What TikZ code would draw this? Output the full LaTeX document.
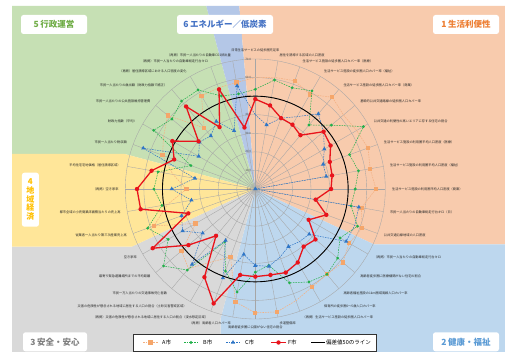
\documentclass[tikz,border=0pt]{standalone}
\usepackage{fontspec}
\setmainfont{Noto Sans CJK JP}
\usetikzlibrary{calc,shapes.geometric}
\definecolor{bgGreen}{HTML}{C6E0B4}
\definecolor{bgBlueTop}{HTML}{B4C7E7}
\definecolor{bgOrange}{HTML}{F8CBAD}
\definecolor{bgBlue}{HTML}{BDD7EE}
\definecolor{bgYellow}{HTML}{FFE699}
\definecolor{bgGrey}{HTML}{D9D9D9}
\definecolor{tGreen}{HTML}{70AD47}
\definecolor{tBlueTop}{HTML}{4472C4}
\definecolor{tOrange}{HTML}{ED7D31}
\definecolor{tYellow}{HTML}{FFC000}
\definecolor{tGrey}{HTML}{808080}
\definecolor{tBlue}{HTML}{5B9BD5}
\definecolor{cA}{HTML}{F5A66A}
\definecolor{cAl}{HTML}{F4B183}
\definecolor{cB}{HTML}{22B04A}
\definecolor{cC}{HTML}{2E75C6}
\definecolor{cF}{HTML}{E8141C}
\definecolor{gridc}{HTML}{A6A6A6}
\begin{document}
\begin{tikzpicture}[x=1pt,y=1pt,
  gridline/.style={draw=gridc,line width=0.35pt},
  ringlbl/.style={anchor=east,inner sep=0pt,text=black!70,font=\fontsize{3}{3.4}\selectfont},
  axlbl/.style={inner sep=0.6pt,text=black!85,font=\fontsize{3.2}{3.6}\selectfont},
  titlebox/.style={fill=white,rounded corners=2.5pt,minimum height=19pt,inner sep=1pt,font=\fontsize{8.5}{9}\selectfont\bfseries},
  lnA/.style={draw=cAl,dash pattern=on 1.6pt off 1pt,line width=0.55pt},
  lnB/.style={draw=cB,dash pattern=on 1.6pt off 1pt,line width=0.5pt},
  lnC/.style={draw=cC,dash pattern=on 1.6pt off 1pt,line width=0.5pt},
  lnF/.style={draw=cF,line width=1.3pt,line join=round},
  mkA/.style={rectangle,fill=cA,minimum size=4.3pt,inner sep=0pt},
  mkB/.style={circle,fill=cB,minimum size=3.1pt,inner sep=0pt},
  mkC/.style={regular polygon,regular polygon sides=3,fill=cC,minimum size=5pt,inner sep=0pt},
  mkF/.style={circle,fill=cF,minimum size=4.4pt,inner sep=0pt},
  leglbl/.style={inner sep=0pt,anchor=west,font=\fontsize{5.5}{6}\selectfont}]
\useasboundingbox (0,0) rectangle (505,352);
\fill[white] (0,0) rectangle (505,352);
\coordinate (O) at (255.3,163);
% background sectors
\fill[bgGreen] (12,346) -- (206.3,346) -- (O) -- (124.7,198) -- (12,198) -- cycle;
\fill[bgBlueTop] (206.3,346) -- (239.3,346) -- (O) -- cycle;
\fill[bgOrange] (239.3,346) -- (505,346) -- (505,107.5) -- (374.3,107.5) -- (O) -- cycle;
\fill[bgBlue] (O) -- (374.3,107.5) -- (505,107.5) -- (505,0) -- (220.7,0) -- (220.7,33.9) -- cycle;
\fill[bgGrey] (O) -- (220.7,33.9) -- (220.7,0) -- (12,0) -- (12,105.3) -- (131.6,105.3) -- cycle;
\fill[bgYellow] (O) -- (131.6,105.3) -- (12,105.3) -- (12,198) -- (124.7,198) -- cycle;
% title boxes
\node[titlebox,minimum width=66pt,text=tGreen] (t5) at (54,327.5) {5\,行政運営};
\node[titlebox,minimum width=96pt,text=tBlueTop] (t6) at (225,327.5) {6\,エネルギー／低炭素};
\node[titlebox,minimum width=66pt,text=tOrange] (t1) at (466,327.5) {1\,生活利便性};
\node[titlebox,minimum width=17pt,minimum height=54pt,align=center,text=tYellow,font=\fontsize{8}{8.6}\selectfont\bfseries] (t4) at (30.4,152.3) {4\\地\\域\\経\\済};
\node[titlebox,minimum width=64pt,text=tGrey] (t3) at (55,10.2) {3\,安全・安心};
\node[titlebox,minimum width=66pt,text=tBlue] (t2) at (466,10.2) {2\,健康・福祉};
% grid
\foreach \r in {1,...,7} \draw[gridline] (O) circle ({\r*18.57});
\foreach \k in {0,...,35} {
  \coordinate (S\k) at ($(O)+({90-10*\k}:130)$);
  \draw[gridline] (O) -- (S\k);
}
\foreach \r/\t in {0/0.0,1/10.0,2/20.0,3/30.0,4/40.0,5/50.0,6/60.0,7/70.0}
  \node[ringlbl] (rl\r) at ($(O)+(-4,{\r*18.57})$) {\t};
% axis labels
\node[axlbl,anchor=south] (L0) at ($(O)+(90:136)$) {日常生活サービスの徒歩圏充足率};
\node[axlbl,anchor=north] (L18) at ($(O)+(-90:136)$) {高齢者徒歩圏に公園がない住宅の割合};
\foreach \k/\t in {1/居住を誘導する区域の人口密度,
  2/生活サービス施設の徒歩圏人口カバー率（医療）,
  3/生活サービス施設の徒歩圏人口カバー率（福祉）,
  4/生活サービス施設の徒歩圏人口カバー率（商業）,
  5/基幹的公共交通路線の徒歩圏人口カバー率,
  6/公共交通の利便性の高いエリアに存する住宅の割合,
  7/生活サービス施設の利用圏平均人口密度（医療）,
  8/生活サービス施設の利用圏平均人口密度（福祉）,
  9/生活サービス施設の利用圏平均人口密度（商業）,
  10/市民一人当たりの自動車総走行台キロ（日）,
  11/公共交通沿線地域の人口密度,
  12/（再掲）市民一人当たりの自動車総走行台キロ,
  13/高齢者徒歩圏に医療機関がない住宅の割合,
  14/高齢者福祉施設の1km圏域高齢人口カバー率,
  15/保育所の徒歩圏0～5歳人口カバー率,
  16/（再掲）生活サービス施設の徒歩圏人口カバー率,
  17/歩道整備率}
  \node[axlbl,anchor=west] (L\k) at ($(O)+({90-10*\k}:136)$) {\t};
\foreach \k/\t in {19/（再掲）高齢者人口カバー率,
  20/（再掲）災害の危険性が懸念される地域に居住する人口の割合（浸水想定区域）,
  21/災害の危険性が懸念される地域に居住する人口の割合（土砂災害警戒区域）,
  22/市民一万人当たりの交通事故死亡者数,
  23/最寄り緊急避難場所までの平均距離,
  24/空き家率,
  25/従業者一人当たり第三次産業売上高,
  26/都市全域の小売商業床面積当たりの売上高,
  27/（再掲）空き家率,
  28/平均住宅宅地価格（居住誘導区域）,
  29/市民一人当たり税収額,
  30/財政力指数（平均）,
  31/市民一人当たりの公共施設維持管理費,
  32/市民一人当たりの歳出額（財政力指数で補正）,
  33/（再掲）居住誘導区域における人口密度の変化,
  34/（再掲）市民一人当たりの自動車総走行台キロ,
  35/（再掲）市民一人当たりの自動車CO2排出量}
  \node[axlbl,anchor=east] (L\k) at ($(O)+({90-10*\k}:136)$) {\t};
% series A
\foreach \v [count=\k from 0] in {60,61,62,58.8,64.5,62,63,64.6,62.8,65,58,61.2,58.4,61.5,60,61,64,67.2,66.7,61.7,39,45,56,51.8,37.1,58.1,48,37,45,53.2,57,61.6,42.9,57.9,58,58.3}
  \coordinate (A\k) at ($(O)+({90-10*\k}:{\v*1.857})$);
\draw[lnA] (A0) \foreach \k in {1,...,35} {-- (A\k)} -- cycle;
\foreach \k in {2,3,4,7,8,9,10,11,12,13,14,15,17,18,19,20,23,24,25,27,29,31,32,33,35}
  \node[mkA] (mA\k) at (A\k) {};
% series B
\foreach \v [count=\k from 0] in {53.7,59.6,58,61,45,53.5,67.2,54,56.4,53.8,52.4,58.6,52.7,57.9,60,57.8,53.8,41.8,44.8,56.3,47,32.8,57,64.5,54.2,61.7,51,54.6,53.2,36.9,63.2,58.6,61.8,61.6,53.3,52}
  \coordinate (B\k) at ($(O)+({90-10*\k}:{\v*1.857})$);
\draw[lnB] (B0) \foreach \k in {1,...,35} {-- (B\k)} -- cycle;
\foreach \k in {0,...,35} \node[mkB] (mB\k) at (B\k) {};
% series C
\foreach \v [count=\k from 0] in {40,35,40.6,45,52.8,48,42.9,38.9,38.8,0,56.6,57,56.5,37.9,37,35.8,39,42.3,41.2,35.8,51,32,53,37,45.2,42.3,34.9,45,33,64.2,35.2,39.3,37.3,42,33.4,56.4}
  \coordinate (C\k) at ($(O)+({90-10*\k}:{\v*1.857})$);
\draw[lnC] (C0) \foreach \k in {1,...,35} {-- (C\k)} -- cycle;
\foreach \k in {1,4,6,7,8,9,10,12,13,15,17,18,19,20,21,22,23,24,25,26,27,28,29,30,31,32,33,34,35}
  \node[mkC] (mC\k) at (C\k) {};
% deviation 50 line
\draw[black,line width=0.9pt] (O) circle (92.85);
% series F
\foreach \v [count=\k from 0] in {48.4,45.7,40.6,40,37.8,48,46.8,42.7,42,40.8,33,40.7,33.2,42.3,40.5,45.7,47.9,47,47.2,47,65.6,54.8,32.9,47,63.8,38.4,62.7,63.7,56.7,46.5,51.6,39.9,58,38.5,57.1,33.6}
  \coordinate (F\k) at ($(O)+({90-10*\k}:{\v*1.857})$);
\draw[lnF] (F0) \foreach \k in {1,...,35} {-- (F\k)} -- cycle;
\foreach \k in {0,...,35} \node[mkF] (mF\k) at (F\k) {};
% legend
\node[draw=black!80,line width=0.6pt,fill=white,minimum width=243pt,minimum height=17pt,inner sep=0pt] (leg) at (254.5,9.5) {};
\coordinate (la1) at (143,9.5); \coordinate (la2) at (158,9.5);
\draw[lnA] (la1) -- (la2); \node[mkA] (lam) at (150.5,9.5) {};
\node[leglbl] (lat) at (162,9.5) {A市};
\coordinate (lb1) at (184,9.5); \coordinate (lb2) at (198,9.5);
\draw[lnB] (lb1) -- (lb2); \node[mkB] (lbm) at (191,9.5) {};
\node[leglbl] (lbt) at (203,9.5) {B市};
\coordinate (lc1) at (226,9.5); \coordinate (lc2) at (240,9.5);
\draw[lnC] (lc1) -- (lc2); \node[mkC] (lcm) at (233,9.5) {};
\node[leglbl] (lct) at (245,9.5) {C市};
\coordinate (lf1) at (271,9.5); \coordinate (lf2) at (286,9.5);
\draw[lnF] (lf1) -- (lf2); \node[mkF] (lfm) at (278.5,9.5) {};
\node[leglbl] (lft) at (288,9.5) {F市};
\coordinate (lk1) at (311,9.5); \coordinate (lk2) at (325,9.5);
\draw[black,line width=0.9pt] (lk1) -- (lk2);
\node[leglbl] (lkt) at (326,9.5) {偏差値50のライン};
\end{tikzpicture}
\end{document}
